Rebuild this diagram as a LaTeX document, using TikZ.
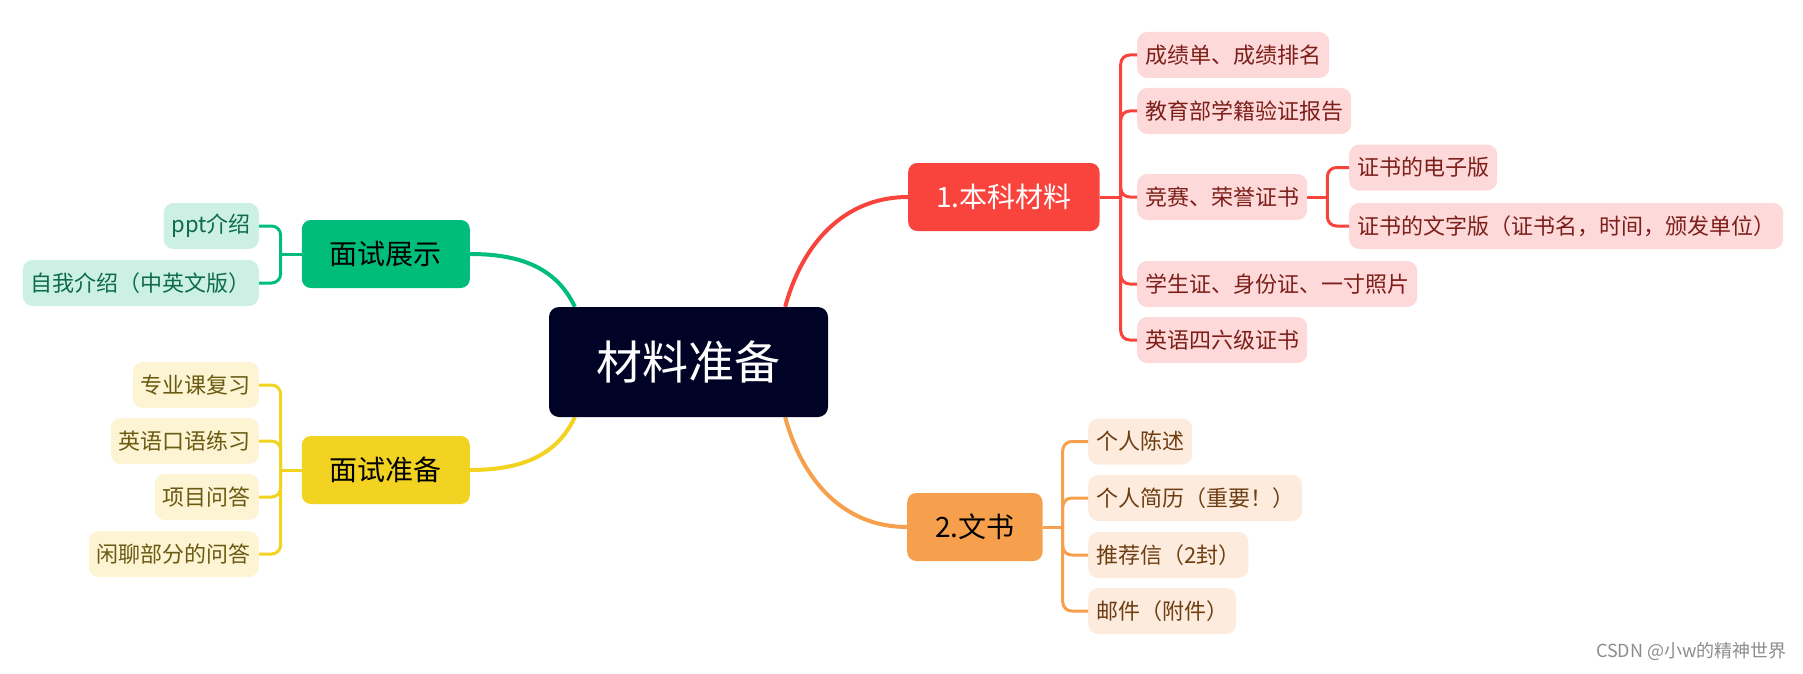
\documentclass[tikz,border=0pt]{standalone}
\usepackage{fontspec}
\setmainfont{Noto Sans CJK SC}
\usepackage{xcolor}
\definecolor{MapNavy}{RGB}{0,2,38}
\definecolor{MapGreen}{RGB}{0,189,123}
\definecolor{MapGreenLt}{RGB}{204,240,228}
\definecolor{MapGreenTx}{RGB}{14,107,75}
\definecolor{MapYellow}{RGB}{242,211,33}
\definecolor{MapYellowLt}{RGB}{252,244,210}
\definecolor{MapYellowTx}{RGB}{107,90,18}
\definecolor{MapRed}{RGB}{249,68,62}
\definecolor{MapRedLt}{RGB}{253,218,217}
\definecolor{MapRedTx}{RGB}{124,30,26}
\definecolor{MapOrange}{RGB}{246,160,77}
\definecolor{MapOrangeLt}{RGB}{253,235,221}
\definecolor{MapOrangeTx}{RGB}{110,62,19}
\usepackage{tikz}
\usetikzlibrary{calc, positioning, backgrounds}

\begin{document}
\begin{tikzpicture}[
    x=1pt, y=1pt,
    root_box/.style={fill=MapNavy, text=white, rounded corners=10pt, minimum width=279pt, minimum height=110pt, font=\fontsize{46}{52}\selectfont},
    topic_box/.style={rounded corners=9pt, minimum height=68pt, inner xsep=28pt, font=\fontsize{28}{32}\selectfont},
    leaf_box/.style={rounded corners=10pt, minimum height=46pt, inner xsep=8pt, font=\fontsize{22}{26}\selectfont},
    branch_line/.style={line width=4pt},
    fork_line/.style={line width=3pt, rounded corners=9pt}
]
    \useasboundingbox (0,0) rectangle (1803,-674);

    % 1. ROOT
    \node[root_box] (root) at (688.5,-362) {材料准备};

    % 2. MAIN TOPICS
    \node[topic_box, fill=MapGreen, anchor=east] (show) at (470,-254) {面试展示};
    \node[topic_box, fill=MapYellow, anchor=east] (prep) at (470,-470) {面试准备};
    \node[topic_box, fill=MapRed, text=white, anchor=west] (ugrad) at (908,-197) {1.本科材料};
    \node[topic_box, fill=MapOrange, anchor=west] (docs) at (907,-527) {2.文书};

    \begin{scope}[on background layer]
        \draw[branch_line, MapGreen] ([xshift=26pt]root.north west) to[out=115, in=0] (show.east);
        \draw[branch_line, MapYellow] ([xshift=26pt]root.south west) to[out=-115, in=0] (prep.east);
        \draw[branch_line, MapRed] ([xshift=-43pt]root.north east) to[out=75, in=180] (ugrad.west);
        \draw[branch_line, MapOrange] ([xshift=-43pt]root.south east) to[out=-75, in=180] (docs.west);
    \end{scope}

    % 3. LEFT LEAVES
    \coordinate (show-fork) at ([xshift=-21pt]show.west);
    \draw[fork_line, MapGreen] (show.west) -- (show-fork);
    \foreach \i/\y/\txt in {1/226/{ppt介绍}, 2/283/{自我介绍（中英文版）}} {
        \node[leaf_box, fill=MapGreenLt, text=MapGreenTx, anchor=east] (show-\i) at (259,-\y) {\txt};
        \draw[fork_line, MapGreen] (show-fork) |- (show-\i.east);
    }

    \coordinate (prep-fork) at ([xshift=-21pt]prep.west);
    \draw[fork_line, MapYellow] (prep.west) -- (prep-fork);
    \foreach \i/\y/\txt in {1/385/{专业课复习}, 2/441/{英语口语练习}, 3/497/{项目问答}, 4/554/{闲聊部分的问答}} {
        \node[leaf_box, fill=MapYellowLt, text=MapYellowTx, anchor=east] (prep-\i) at (259,-\y) {\txt};
        \draw[fork_line, MapYellow] (prep-fork) |- (prep-\i.east);
    }

    % 4. RIGHT LEAVES
    \coordinate (ugrad-fork) at ([xshift=21pt]ugrad.east);
    \draw[fork_line, MapRed] (ugrad.east) -- (ugrad-fork);
    \foreach \i/\y/\txt in {1/55/{成绩单、成绩排名}, 2/111/{教育部学籍验证报告}, 3/197/{竞赛、荣誉证书}, 4/284/{学生证、身份证、一寸照片}, 5/340/{英语四六级证书}} {
        \node[leaf_box, fill=MapRedLt, text=MapRedTx, anchor=west] (ugrad-\i) at (1137,-\y) {\txt};
        \draw[fork_line, MapRed] (ugrad-fork) |- (ugrad-\i.west);
    }

    \coordinate (cert-fork) at ([xshift=20pt]ugrad-3.east);
    \draw[fork_line, MapRed] (ugrad-3.east) -- (cert-fork);
    \foreach \i/\y/\txt in {1/167.5/{证书的电子版}, 2/226/{证书的文字版（证书名，时间，颁发单位）}} {
        \node[leaf_box, fill=MapRedLt, text=MapRedTx, anchor=west] (cert-\i) at (1349,-\y) {\txt};
        \draw[fork_line, MapRed] (cert-fork) |- (cert-\i.west);
    }

    \coordinate (docs-fork) at ([xshift=20pt]docs.east);
    \draw[fork_line, MapOrange] (docs.east) -- (docs-fork);
    \foreach \i/\y/\txt in {1/441.5/{个人陈述}, 2/498/{个人简历（重要！）}, 3/555/{推荐信（2封）}, 4/611/{邮件（附件）}} {
        \node[leaf_box, fill=MapOrangeLt, text=MapOrangeTx, anchor=west] (docs-\i) at (1088,-\y) {\txt};
        \draw[fork_line, MapOrange] (docs-fork) |- (docs-\i.west);
    }

    % 5. WATERMARK
    \node[anchor=east, text=black!45, inner sep=0pt, font=\fontsize{18}{21}\selectfont] (mark) at (1787,-651) {CSDN @小w的精神世界};

\end{tikzpicture}
\end{document}
